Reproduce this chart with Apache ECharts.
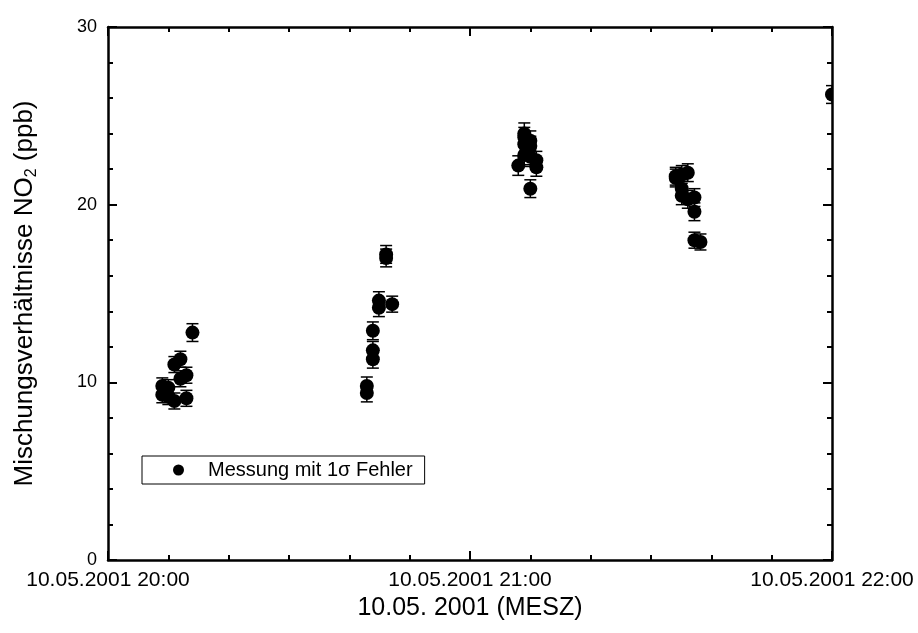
<!DOCTYPE html>
<html>
<head>
<meta charset="utf-8">
<script src="https://cdn.jsdelivr.net/npm/echarts@6/dist/echarts.min.js"></script>
<style>html,body{margin:0;padding:0;background:#fff;}#c{width:918px;height:633px;}</style>
</head>
<body>
<div id="c"></div>
<script>
// minutes after 10.05.2001 20:00 (MESZ)
var minutes = [9, 9, 10, 10, 11, 11, 12, 12, 13, 13, 14,
  42.9, 42.9, 43.9, 43.9, 43.9, 44.9, 44.9, 46.1, 46.1, 47.1,
  68, 69, 69, 69, 69, 70, 70, 70, 70, 71, 71,
  94.1, 94.1, 95.1, 95.1, 95.1, 96.1, 96.1, 97.2, 97.2, 97.2, 98.2,
  120];
var no2 = [9.8, 9.3, 9.7, 9.2, 11.0, 8.95, 11.3, 10.2, 10.4, 9.1, 12.8,
  9.8, 9.4, 12.9, 11.8, 11.3, 14.6, 14.2, 17.2, 17.0, 14.4,
  22.2, 24.0, 23.8, 23.4, 22.8, 23.6, 23.3, 22.7, 20.9, 22.5, 22.1,
  21.5, 21.6, 21.7, 20.9, 20.5, 21.8, 20.3, 20.4, 19.6, 18.0, 17.9,
  26.2];
var sigma = [0.45, 0.45, 0.45, 0.45, 0.45, 0.45, 0.45, 0.45, 0.45, 0.45, 0.5,
  0.5, 0.5, 0.5, 0.5, 0.5, 0.5, 0.5, 0.5, 0.5, 0.45,
  0.55, 0.6, 0.55, 0.55, 0.55, 0.55, 0.55, 0.55, 0.5, 0.5, 0.5,
  0.5, 0.5, 0.5, 0.5, 0.5, 0.5, 0.5, 0.5, 0.5, 0.45, 0.45,
  0.5];
var xTickLabels = {0: '10.05.2001 20:00', 60: '10.05.2001 21:00', 120: '10.05.2001 22:00'};
var seriesName = 'Messung mit 1σ Fehler';

var data = minutes.map(function (t, i) { return [t, no2[i], sigma[i]]; });

var chart = echarts.init(document.getElementById('c'));
var font = 'Liberation Sans, Arial, sans-serif';
function axisCommon(extra) {
  return Object.assign({
    axisLine: {show: true, onZero: false, lineStyle: {color: '#000', width: 2.5}},
    axisTick: {show: true, inside: true, length: 9, lineStyle: {color: '#000', width: 2}},
    splitLine: {show: false}
  }, extra);
}
var minorX = {show: true, splitNumber: 6, length: 5, lineStyle: {color: '#000', width: 2}};
var minorY = {show: true, splitNumber: 5, length: 5, lineStyle: {color: '#000', width: 2}};
chart.setOption({
  backgroundColor: '#fff',
  animation: false,
  grid: {left: 108, right: 86, top: 27, bottom: 73},
  legend: {
    left: 142, top: 456, orient: 'horizontal',
    padding: [4, 12, 4, 31],
    borderColor: '#000', borderWidth: 1, borderRadius: 0,
    itemWidth: 11, itemHeight: 11, itemGap: 10,
    textStyle: {fontFamily: font, fontSize: 20, color: '#000', padding: [0, 0, 0, 19]},
    data: [{name: seriesName, icon: 'circle', itemStyle: {color: '#000'}}]
  },
  xAxis: [
    axisCommon({
      type: 'value', min: 0, max: 120, interval: 60, position: 'bottom',
      minorTick: minorX,
      axisLabel: {fontFamily: font, fontSize: 21, color: '#000', margin: 10,
        formatter: function (v) { return xTickLabels[v] || ''; }},
      name: '10.05. 2001 (MESZ)', nameLocation: 'middle', nameGap: 36,
      nameTextStyle: {fontFamily: font, fontSize: 25, color: '#000'}
    }),
    axisCommon({
      type: 'value', min: 0, max: 120, interval: 60, position: 'top',
      minorTick: minorX,
      axisLabel: {show: false}
    })
  ],
  yAxis: [
    axisCommon({
      type: 'value', min: 0, max: 30, interval: 10, position: 'left',
      minorTick: minorY,
      axisLabel: {fontFamily: font, fontSize: 18, color: '#000', margin: 11},
      name: '{a|Mischungsverhältnisse NO}{s|2}{a| (ppb)}', nameLocation: 'middle', nameGap: 68, nameRotate: 90,
      nameTextStyle: {fontFamily: font, fontSize: 26, color: '#000',
        rich: {a: {fontFamily: font, fontSize: 26, color: '#000'},
               s: {fontFamily: font, fontSize: 16, color: '#000', padding: [14, 0, 0, 0]}}}
    }),
    axisCommon({
      type: 'value', min: 0, max: 30, interval: 10, position: 'right',
      minorTick: minorY,
      axisLabel: {show: false}
    })
  ],
  series: [{
    name: seriesName,
    type: 'custom',
    clip: true,
    xAxisIndex: 0, yAxisIndex: 0,
    itemStyle: {color: '#000'},
    data: data,
    renderItem: function (params, api) {
      var t = api.value(0), v = api.value(1), e = api.value(2);
      var c = api.coord([t, v]);
      var hi = api.coord([t, v + e]);
      var lo = api.coord([t, v - e]);
      var w = 6;
      var ls = {stroke: '#000', lineWidth: 1.5};
      return {
        type: 'group',
        children: [
          {type: 'line', shape: {x1: c[0], y1: hi[1], x2: c[0], y2: lo[1]}, style: ls},
          {type: 'line', shape: {x1: c[0] - w, y1: hi[1], x2: c[0] + w, y2: hi[1]}, style: ls},
          {type: 'line', shape: {x1: c[0] - w, y1: lo[1], x2: c[0] + w, y2: lo[1]}, style: ls},
          {type: 'circle', shape: {cx: c[0], cy: c[1], r: 7}, style: {fill: '#000'}}
        ]
      };
    }
  }]
});
</script>
</body>
</html>
